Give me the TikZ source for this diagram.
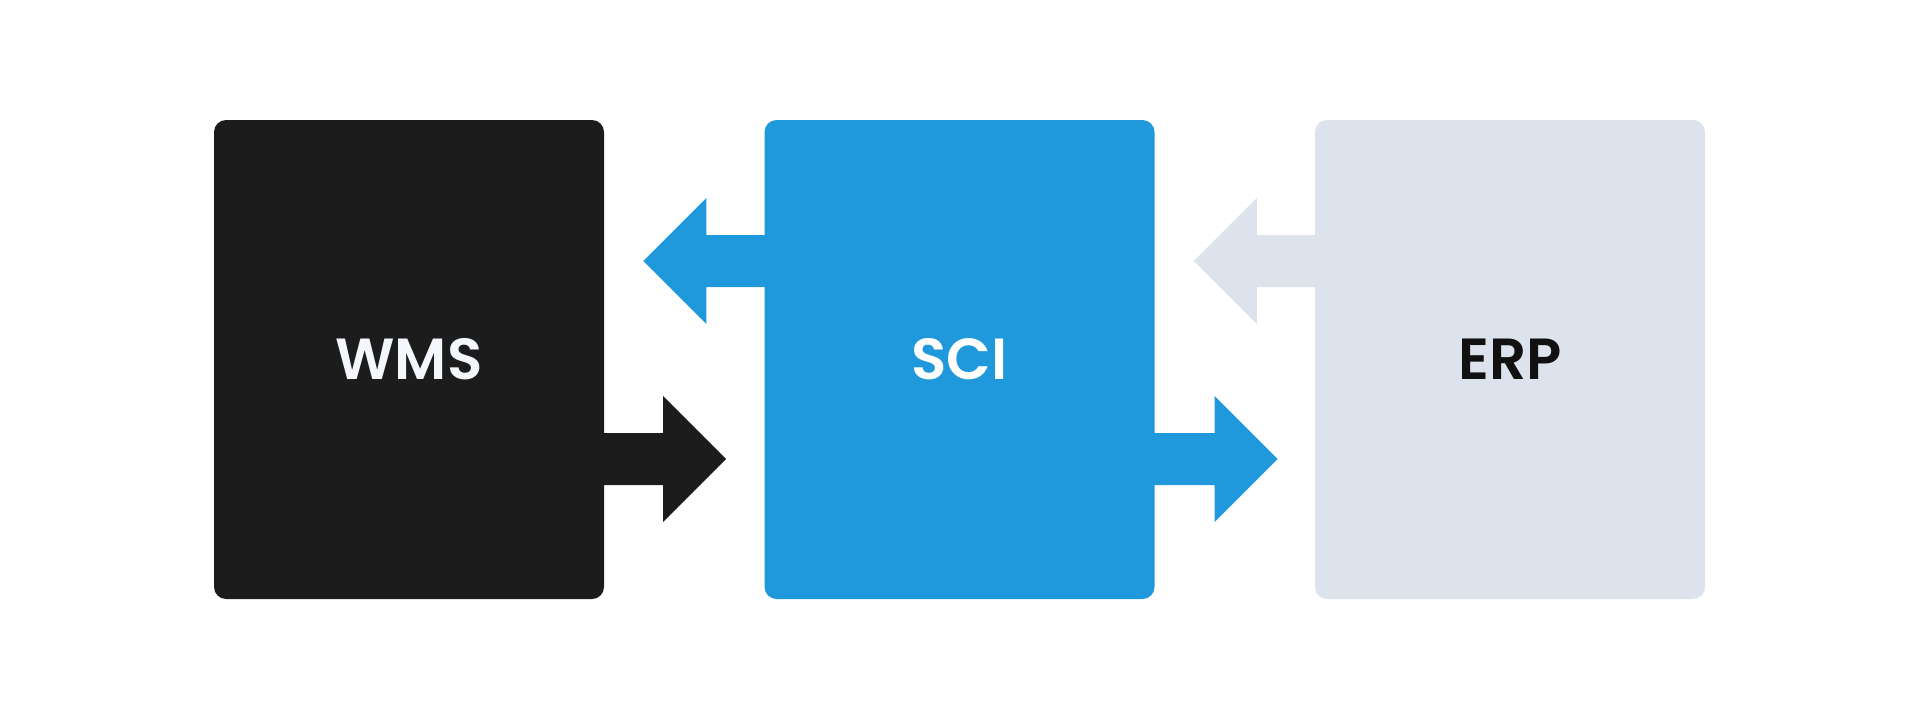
\documentclass[tikz,border=0pt]{standalone}
\usepackage{fontspec}
\setmainfont{Poppins}[BoldFont={Poppins SemiBold}]
\usetikzlibrary{calc}
\pgfdeclarelayer{background}
\pgfsetlayers{background,main}
\definecolor{darkbox}{HTML}{1C1C1C}
\definecolor{bluebox}{HTML}{2098DC}
\definecolor{lightbox}{HTML}{DCE3EC}
\definecolor{paletext}{HTML}{F3F6FA}
\definecolor{inktext}{HTML}{111111}
\tikzset{
  sysbox/.style={rectangle, rounded corners=12pt, minimum width=390pt, minimum height=479pt, inner sep=0pt,
    font=\fontsize{58}{58}\selectfont\bfseries},
}
\begin{document}
\begin{tikzpicture}[x=1pt,y=-1pt]
\useasboundingbox (0,0) rectangle (1920,720);
\node[sysbox, fill=darkbox, text=paletext] (wms) at (409,359.5) {WMS};
\node[sysbox, fill=bluebox, text=white] (sci) at (959.5,359.5) {SCI};
\node[sysbox, fill=lightbox, text=inktext] (erp) at (1510,359.5) {ERP};
\begin{pgfonlayer}{background}
% WMS -> right
\coordinate (a1) at ($(wms.east |- 0,459)$);
\fill[darkbox] ($(a1)+(-12,-26)$) -- ($(a1)+(59,-26)$) -- ($(a1)+(59,-63)$) -- ($(a1)+(122,0)$)
  -- ($(a1)+(59,63)$) -- ($(a1)+(59,26)$) -- ($(a1)+(-12,26)$) -- cycle;
% SCI -> right
\coordinate (a2) at ($(sci.east |- 0,459)$);
\fill[bluebox] ($(a2)+(-12,-26)$) -- ($(a2)+(60,-26)$) -- ($(a2)+(60,-63)$) -- ($(a2)+(123,0)$)
  -- ($(a2)+(60,63)$) -- ($(a2)+(60,26)$) -- ($(a2)+(-12,26)$) -- cycle;
% SCI -> left
\coordinate (a3) at ($(sci.west |- 0,261)$);
\fill[bluebox] ($(a3)+(12,-26)$) -- ($(a3)+(-58,-26)$) -- ($(a3)+(-58,-63)$) -- ($(a3)+(-121,0)$)
  -- ($(a3)+(-58,63)$) -- ($(a3)+(-58,26)$) -- ($(a3)+(12,26)$) -- cycle;
% ERP -> left
\coordinate (a4) at ($(erp.west |- 0,261)$);
\fill[lightbox] ($(a4)+(12,-26)$) -- ($(a4)+(-58,-26)$) -- ($(a4)+(-58,-63)$) -- ($(a4)+(-121,0)$)
  -- ($(a4)+(-58,63)$) -- ($(a4)+(-58,26)$) -- ($(a4)+(12,26)$) -- cycle;
\end{pgfonlayer}
\end{tikzpicture}
\end{document}
